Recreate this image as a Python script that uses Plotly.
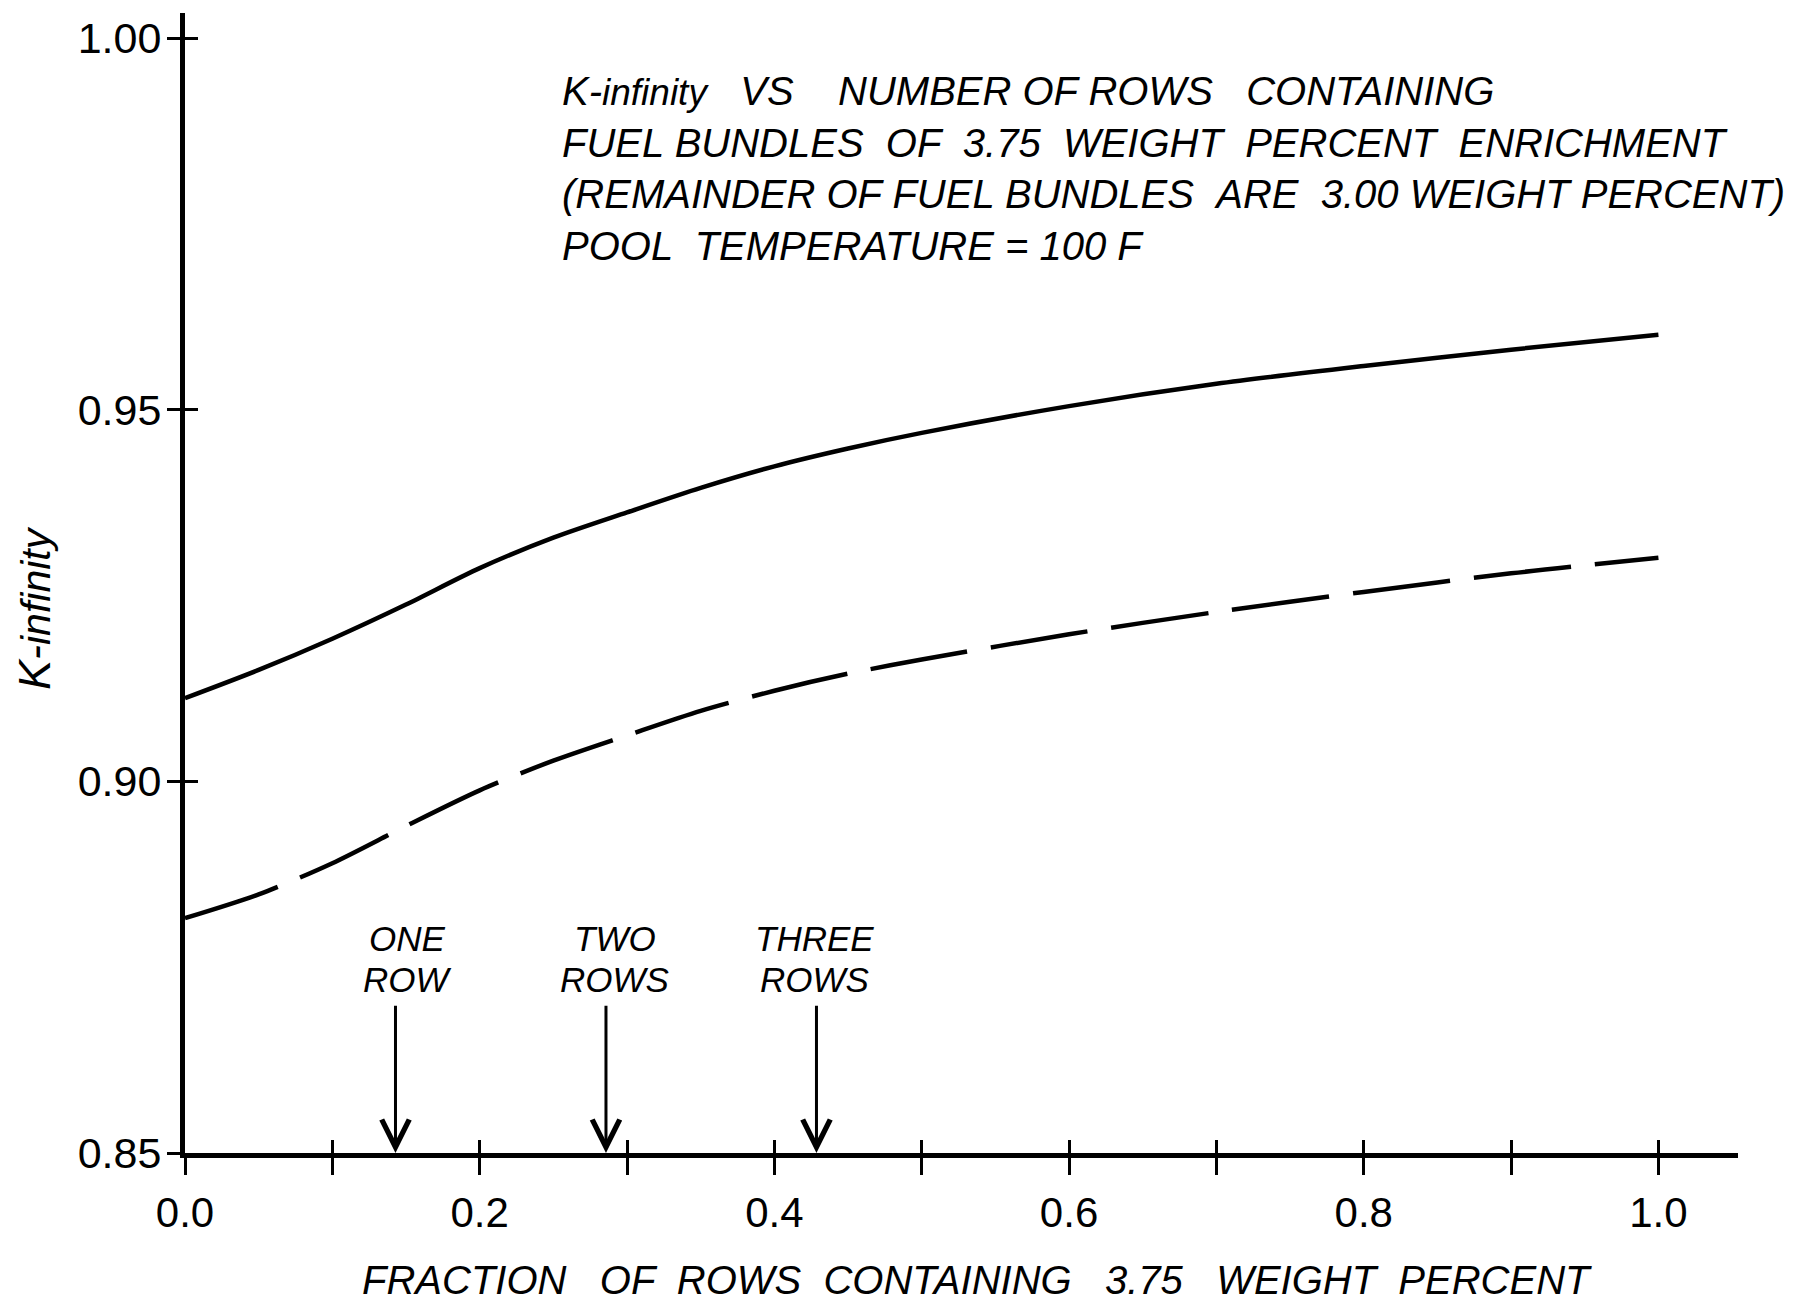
import plotly.graph_objects as go

# ---- data ----
frac = [0.0, 0.05, 0.10, 0.15, 0.20, 0.25, 0.30, 0.35, 0.40, 0.45, 0.50, 0.60, 0.70, 0.80, 0.90, 1.00]
k_solid = [0.9112, 0.9150, 0.9192, 0.9238, 0.9287, 0.9328, 0.9362, 0.9395, 0.9424, 0.9448,
           0.9469, 0.9505, 0.9535, 0.9559, 0.9581, 0.9601]
k_dashed = [0.8816, 0.8848, 0.8890, 0.8940, 0.8988, 0.9028, 0.9062, 0.9095, 0.9122, 0.9145,
            0.9164, 0.9198, 0.9228, 0.9255, 0.9280, 0.9301]

row_marks = [1 / 7, 2 / 7, 3 / 7]
row_label_top = ["ONE", "TWO", "THREE"]
row_label_bot = ["ROW", "ROWS", "ROWS"]
row_label_shift = [12, 9, -2]

x_tickvals = [0.0, 0.1, 0.2, 0.3, 0.4, 0.5, 0.6, 0.7, 0.8, 0.9, 1.0]
x_ticktext = ["0.0", "", "0.2", "", "0.4", "", "0.6", "", "0.8", "", "1.0"]
y_tickvals = [0.85, 0.90, 0.95, 1.00]
y_ticktext = ["0.85", "0.90", "0.95", "1.00"]

title_lines = [
    "K-<span style='font-size:37px'>infinity</span>&nbsp;&nbsp; VS &nbsp;&nbsp;&nbsp;NUMBER OF ROWS &nbsp;&nbsp;CONTAINING",
    "FUEL BUNDLES &nbsp;OF &nbsp;3.75 &nbsp;WEIGHT &nbsp;PERCENT &nbsp;ENRICHMENT",
    "(REMAINDER OF FUEL BUNDLES &nbsp;ARE &nbsp;3.00 WEIGHT PERCENT)",
    "POOL &nbsp;TEMPERATURE = 100 F",
]
x_title = "FRACTION &nbsp;&nbsp;OF &nbsp;ROWS &nbsp;CONTAINING &nbsp;&nbsp;3.75 &nbsp;&nbsp;WEIGHT &nbsp;PERCENT"
y_title = "K-<span style='font-size:41px'>infinity</span>"

X_RANGE = [0.0, 1.054]
Y_RANGE = [0.85, 1.0034]

FONT = "Liberation Sans"
INK = "black"

fig = go.Figure()
fig.add_trace(go.Scatter(x=frac, y=k_solid, mode="lines",
                         line=dict(color=INK, width=4.5, shape="spline", smoothing=0.8),
                         showlegend=False, hoverinfo="skip", xaxis="x", yaxis="y"))
fig.add_trace(go.Scatter(x=frac, y=k_dashed, mode="lines",
                         line=dict(color=INK, width=4.5, dash="98px,24px", shape="spline", smoothing=0.8),
                         showlegend=False, hoverinfo="skip", xaxis="x2", yaxis="y2"))

common_x = dict(range=X_RANGE, tickvals=x_tickvals, showgrid=False, zeroline=False,
                tickcolor=INK, tickwidth=3, fixedrange=True)
common_y = dict(range=Y_RANGE, tickvals=y_tickvals, showgrid=False, zeroline=False,
                tickcolor=INK, tickwidth=3, fixedrange=True)

# page body adds an 8px offset; margins compensate so the plot sits where the reference's does
fig.update_layout(
    width=1793, height=1301,
    margin=dict(l=177, r=63, t=5, b=156),
    paper_bgcolor="white", plot_bgcolor="white",
    font=dict(family=FONT, color=INK),
    xaxis=dict(**common_x, ticktext=x_ticktext, ticks="outside", ticklen=17,
               showline=True, linewidth=5, linecolor=INK, anchor="y",
               tickfont=dict(size=42, family=FONT, color=INK), ticklabelstandoff=2),
    yaxis=dict(**common_y, ticktext=y_ticktext, ticks="outside", ticklen=13,
               showline=True, linewidth=5, linecolor=INK, anchor="x",
               tickfont=dict(size=43, family=FONT, color=INK), ticklabelstandoff=-3),
    xaxis2=dict(**common_x, overlaying="x", anchor="y2", side="bottom", ticks="inside",
                ticklen=13, showticklabels=False, showline=False),
    yaxis2=dict(**common_y, overlaying="y", anchor="x2", side="left", ticks="inside",
                ticklen=13, showticklabels=False, showline=False),
)

PW, PH = 1553, 1140  # plot area size in px


def px_to_paper(xpx, ypx):
    return (xpx - 185) / PW, (1153 - ypx) / PH


annotations = []
# title block
title_y_px = [91, 143, 194, 246]
for line, ypx in zip(title_lines, title_y_px):
    px, py = px_to_paper(560, ypx)
    annotations.append(dict(
        text=line, xref="paper", yref="paper", x=px, y=py,
        xanchor="left", yanchor="middle", showarrow=False,
        font=dict(size=40, family=FONT, color=INK, style="italic")))

# axis titles
px, py = px_to_paper(977, 1280)
annotations.append(dict(text=x_title, xref="paper", yref="paper", x=px, y=py,
                        xanchor="center", yanchor="middle", showarrow=False,
                        font=dict(size=40, family=FONT, color=INK, style="italic")))
px, py = px_to_paper(34, 608)
annotations.append(dict(text=y_title, xref="paper", yref="paper", x=px, y=py,
                        xanchor="center", yanchor="middle", textangle=-90, showarrow=False,
                        font=dict(size=45, family=FONT, color=INK, style="italic")))

# row arrows and labels
for xm, top, bot, sh in zip(row_marks, row_label_top, row_label_bot, row_label_shift):
    annotations.append(dict(text="", x=xm, y=Y_RANGE[0], ax=xm, ay=0.870,
                            xref="x", yref="y", axref="x", ayref="y",
                            showarrow=True, arrowhead=5, arrowsize=1.8, arrowwidth=3,
                            arrowcolor=INK))
    annotations.append(dict(text=top, x=xm, y=0.85 + (1153 - 938) / 7433, xref="x", yref="y",
                            xshift=sh, xanchor="center", yanchor="middle", showarrow=False,
                            font=dict(size=35, family=FONT, color=INK, style="italic")))
    annotations.append(dict(text=bot, x=xm, y=0.85 + (1153 - 979) / 7433, xref="x", yref="y",
                            xshift=sh, xanchor="center", yanchor="middle", showarrow=False,
                            font=dict(size=35, family=FONT, color=INK, style="italic")))

fig.update_layout(annotations=annotations)
fig.write_html("out.html")
